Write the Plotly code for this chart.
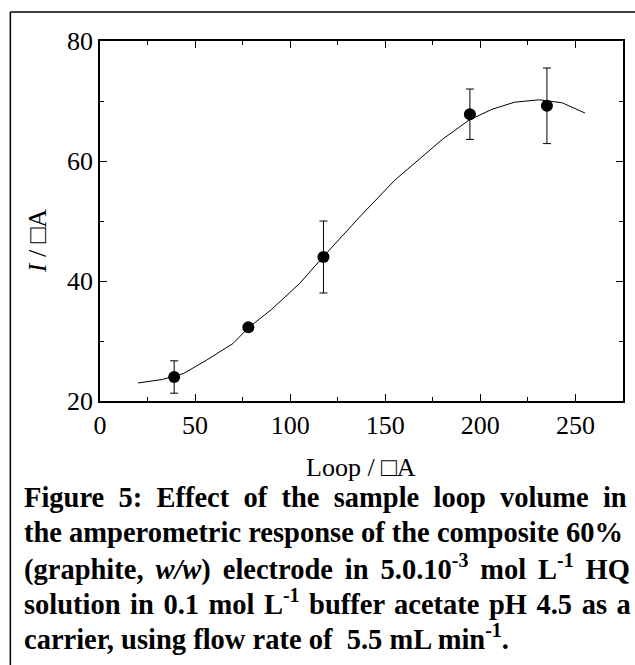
import plotly.graph_objects as go

# ---- data ----
loop_volume = [39, 78, 117.5, 194.5, 235]
current = [24.0, 32.3, 44.0, 67.8, 69.2]
current_err = [2.7, 0.0, 6.0, 4.2, 6.3]

fit_x = [20, 33, 44, 56, 70, 78, 90, 105, 117, 136, 155, 180, 194, 206, 218, 231, 243, 255]
fit_y = [23.0, 23.6, 24.6, 26.8, 29.6, 32.2, 35.2, 39.6, 43.9, 50.5, 56.8, 63.6, 66.8, 68.6, 69.8, 70.2, 69.7, 68.0]

x_ticks = [0, 50, 100, 150, 200, 250]
y_ticks = [20, 40, 60, 80]

caption_words = [
    ["Figure", "5:", "Effect", "of", "the", "sample", "loop", "volume", "in"],
    ["the", "amperometric", "response", "of", "the", "composite", "60%"],
    ["(graphite,", "<i>w/w</i>)", "electrode", "in", "5.0.10<sup>-3</sup>", "mol", "L<sup>-1</sup>", "HQ"],
    ["solution", "in", "0.1", "mol", "L<sup>-1</sup>", "buffer", "acetate", "pH", "4.5", "as", "a"],
    ["carrier,", "using", "flow", "rate", "of", " 5.5", "mL", "min<sup>-1</sup>."],
]
# extra spacing inserted in each gap to imitate the justified caption
caption_gap = [" \u00a0", " ", " \u200a\u200a", " \u200a", " "]

W, H = 635, 665
L, R, T, B = 100, 10, 41, 264
PW, PH = W - L - R, H - T - B


def xp(px):
    return (px - L) / PW


def yp(py):
    return (T + PH - py) / PH


SERIF = "Liberation Serif, Times New Roman, serif"

fig = go.Figure()
fig.add_trace(go.Scatter(
    x=fit_x, y=fit_y, mode="lines",
    line=dict(color="black", width=1), showlegend=False, hoverinfo="skip"))
fig.add_trace(go.Scatter(
    x=loop_volume, y=current, mode="markers",
    marker=dict(color="black", size=12),
    error_y=dict(type="data", array=current_err, color="black", thickness=1, width=4),
    showlegend=False))

axis_common = dict(
    showgrid=False, zeroline=False, showline=True, linecolor="black", linewidth=1.5,
    mirror="allticks", ticks="inside", ticklen=7, tickwidth=1, tickcolor="black",
    tickfont=dict(family=SERIF, size=26, color="black"),
)
fig.update_xaxes(range=[0, 275], tickvals=x_ticks,
                 minor=dict(ticks="inside", ticklen=4, tickcolor="black", dtick=25, tick0=0),
                 **axis_common)
fig.update_yaxes(range=[20, 80], tickvals=y_ticks,
                 minor=dict(ticks="inside", ticklen=4, tickcolor="black", dtick=10, tick0=0),
                 **axis_common)

annotations = [
    dict(xref="paper", yref="paper", x=xp(362), y=yp(467), text="Loop / □A", showarrow=False,
         xanchor="center", yanchor="middle", font=dict(family=SERIF, size=26, color="black")),
    dict(xref="paper", yref="paper", x=xp(37), y=yp(241), text="<i>I</i> / □A", showarrow=False,
         textangle=-90, xanchor="center", yanchor="middle",
         font=dict(family=SERIF, size=26, color="black")),
]
cap_y = [497, 532, 567, 602, 637]
for words, gap, cy in zip(caption_words, caption_gap, cap_y):
    annotations.append(dict(
        xref="paper", yref="paper",
        x=xp(22), y=yp(cy), text="<b>" + gap.join(words) + "</b>", showarrow=False,
        xanchor="left", yanchor="middle", align="left",
        font=dict(family=SERIF, size=28.5, color="black")))

fig.update_layout(
    width=W, height=H, margin=dict(l=L, r=R, t=T, b=B),
    paper_bgcolor="white", plot_bgcolor="white",
    annotations=annotations,
    shapes=[
        dict(type="line", xref="paper", yref="paper", x0=xp(10), x1=xp(640), y0=yp(12), y1=yp(12),
             line=dict(color="black", width=1.5)),
        dict(type="line", xref="paper", yref="paper", x0=xp(10), x1=xp(10), y0=yp(12), y1=yp(670),
             line=dict(color="black", width=1.5)),
    ],
)

fig.write_html("out.html", config={"displayModeBar": False},
               post_script="document.body.style.margin='0';document.body.style.overflow='hidden';")
